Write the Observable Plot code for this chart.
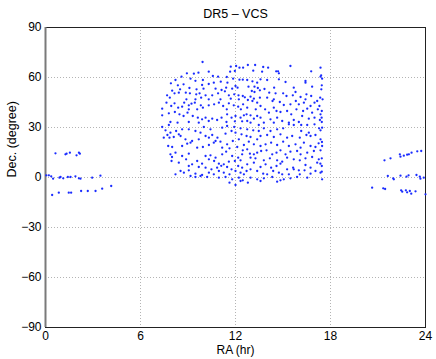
<!DOCTYPE html>
<html>
<head>
<meta charset="utf-8">
<script src="https://cdn.jsdelivr.net/npm/d3@7"></script>
<script src="https://cdn.jsdelivr.net/npm/@observablehq/plot@0.6"></script>
<style>
  html, body { margin: 0; padding: 0; background: #fff; }
</style>
</head>
<body>
<div id="chart"></div>
<script>
const title = "DR5 – VCS";
const xLabel = "RA (hr)";
const yLabel = "Dec. (degree)";
const xTicks = [0, 6, 12, 18, 24];
const yTicks = [-90, -60, -30, 0, 30, 60, 90];

// [RA (hr), Dec (deg)]
const clusterNW = [
[9.92,69.3],[12.04,66.9],[11.70,66.5],[12.25,65.9],[12.48,65.9],[10.31,63.5],[9.66,62.9],[9.37,62.3],[8.93,62.5],[11.66,63.5],
[11.96,63.9],[8.59,60.5],[8.21,58.5],[9.94,58.5],[10.57,60.9],[10.9,60.5],[11.45,60.3],[11.85,59.3],[12.25,58.7],[12.46,58.7],
[9.47,58.0],[11.07,57.5],[10.63,56.9],[11.49,56.9],[9.16,59.3],[7.92,56.5],[8.72,55.9],[8.36,55.3],[9.89,55.5],[10.31,56.1],
[8.0,52.1],[8.5,52.9],[9.09,53.7],[9.54,52.9],[9.98,53.3],[10.74,53.3],[11.12,52.5],[11.41,53.9],[11.79,53.3],[12.0,54.9],
[12.13,53.9],[7.68,49.3],[7.85,47.9],[8.15,50.5],[8.42,50.9],[8.86,50.9],[9.12,50.5],[9.52,49.9],[9.73,50.5],[9.83,47.9],
[10.11,49.3],[10.53,49.3],[10.9,50.5],[11.33,51.7],[11.58,49.3],[11.92,49.9],[12.19,49.3],[12.46,48.9],[12.59,48.1],[9.47,46.9],
[8.9,46.9],[10.31,46.9],[11.05,46.9],[11.7,47.3],[12.21,46.9],[7.37,41.3],[7.64,44.9],[7.94,42.9],[8.15,44.5],[8.38,41.9],
[8.63,42.5],[8.76,44.9],[9.05,43.3],[9.22,44.3],[9.43,44.9],[9.81,43.3],[9.94,41.9],[10.31,43.3],[10.65,43.9],[10.95,44.9],
[11.22,42.9],[11.58,44.5],[11.89,43.3],[12.17,42.5],[12.34,40.9],[12.48,43.9],[9.05,40.9],[9.58,40.9],[11.45,40.9],[7.37,37.3],
[7.79,38.5],[8.17,39.3],[8.46,37.9],[8.72,36.9],[8.97,38.9],[9.3,36.9],[9.62,35.9],[9.89,34.9],[10.11,35.9],[10.31,33.9],
[10.53,35.3],[10.84,34.5],[11.12,35.9],[11.47,37.9],[11.75,35.9],[12.0,36.9],[12.32,35.9],[12.53,37.3],[7.89,33.3],[8.34,32.9],
[9.05,33.3],[9.68,32.9],[11.43,33.3],[11.96,33.7],[12.42,33.7]
];
const clusterNE = [
[12.78,67.5],[13.24,67.5],[13.75,66.3],[14.06,65.9],[15.47,66.9],[14.57,63.7],[14.69,63.7],[14.74,62.5],[13.68,63.5],[13.12,64.1],
[17.37,65.9],[16.78,63.7],[17.41,61.3],[17.47,59.3],[17.37,60.5],[12.74,58.5],[13.07,57.7],[13.37,56.9],[13.58,58.9],[14.0,58.5],
[14.74,58.9],[15.16,57.3],[16.42,57.9],[16.42,56.9],[16.84,54.5],[17.45,55.3],[12.82,54.5],[13.2,54.5],[13.41,53.7],[13.03,51.9],
[13.2,51.3],[13.54,52.3],[13.83,53.1],[14.44,53.9],[14.13,50.9],[14.53,50.5],[15.01,50.5],[15.68,53.9],[15.79,51.3],[15.22,48.9],
[15.62,49.3],[16.11,48.3],[16.48,49.9],[16.78,48.9],[16.42,46.9],[17.16,45.9],[17.42,52.9],[12.95,48.5],[13.16,47.3],[13.54,47.9],
[12.78,46.5],[13.07,45.9],[13.37,44.9],[14.0,47.9],[14.34,45.9],[14.42,46.9],[14.8,45.3],[15.05,43.5],[15.47,43.9],[15.81,45.9],
[16.0,43.9],[16.32,44.9],[16.74,42.9],[16.99,44.9],[17.35,47.9],[17.5,46.9],[12.74,41.9],[13.28,40.9],[13.58,42.9],[13.87,40.9],
[14.42,41.9],[14.59,39.9],[14.11,38.9],[14.84,39.3],[15.26,39.9],[15.52,37.9],[15.85,40.9],[16.27,39.9],[16.53,41.3],[16.84,38.9],
[17.2,40.9],[17.37,37.9],[17.45,39.9],[17.3,42.9],[12.7,37.9],[12.95,37.3],[13.37,36.9],[13.16,35.3],[13.58,35.9],[12.74,33.9],
[12.95,32.9],[14.21,34.9],[14.63,35.9],[14.95,33.9],[15.37,32.9],[15.68,34.5],[16.0,33.3],[16.21,36.9],[16.63,35.3],[16.99,35.9],
[17.33,34.5],[17.45,33.3],[17.44,35.9],[14.42,32.9],[13.79,32.9]
];
const clusterSW = [
[7.79,31.5],[7.37,30.3],[10.0,30.3],[10.42,28.9],[11.16,29.9],[11.47,30.9],[11.92,30.3],[12.32,29.5],[7.58,28.3],[7.89,26.9],
[7.70,25.5],[8.25,27.9],[8.42,25.9],[8.63,28.9],[9.05,28.9],[9.47,27.9],[9.79,26.9],[10.11,24.9],[10.53,25.5],[10.86,23.9],
[11.37,26.3],[11.75,27.9],[12.0,26.9],[12.38,25.9],[7.47,23.9],[7.83,23.9],[8.1,24.3],[8.53,24.9],[8.84,22.9],[9.26,21.9],
[9.68,22.9],[10.32,23.9],[10.74,21.9],[11.05,21.5],[11.47,19.9],[11.83,21.9],[12.21,22.9],[12.53,19.5],[7.75,18.9],[8.0,18.3],
[8.63,18.9],[8.95,20.3],[9.16,20.9],[9.58,17.9],[9.94,18.3],[10.32,19.5],[10.63,20.9],[11.16,17.9],[11.62,17.5],[12.11,18.3],
[12.46,16.3],[7.89,13.9],[7.99,12.3],[8.21,14.9],[8.63,12.9],[9.05,14.3],[10.11,12.9],[10.42,13.3],[10.74,11.9],[11.16,13.9],
[11.41,15.5],[11.79,12.9],[12.17,11.9],[12.42,13.9],[7.96,9.9],[8.42,8.9],[8.88,10.9],[9.58,9.9],[9.89,8.3],[10.32,10.9],
[10.65,9.9],[10.95,8.3],[11.26,7.9],[11.58,9.5],[11.96,9.9],[12.32,10.3],[9.05,6.9],[9.26,7.9],[9.68,6.3],[10.11,5.9],
[10.48,4.9],[10.84,5.9],[11.1,7.0],[11.47,6.3],[11.75,4.9],[12.17,6.9],[12.42,5.9],[8.53,3.9],[8.74,2.9],[9.05,4.3],
[9.47,2.3],[9.89,1.5],[10.32,2.9],[10.63,1.9],[10.95,3.9],[11.26,2.9],[11.62,1.9],[12.0,3.9],[12.32,2.9],[12.53,1.9],
[8.21,1.9],[9.16,0.9],[9.47,0.3],[9.79,0.9],[10.21,0.3],[10.95,-0.1],[11.37,0.3],[11.79,-1.1],[12.21,-0.1],[12.46,-1.7],
[11.62,-3.1],[12.0,-4.5],[12.32,-2.1]
];
const clusterSE = [
[13.47,31.5],[15.37,31.9],[15.68,31.5],[16.15,31.5],[16.53,31.5],[16.99,31.9],[17.47,29.9],[12.74,28.9],[13.12,28.3],[13.47,27.9],
[13.79,29.5],[14.21,27.9],[14.63,28.9],[15.01,29.5],[16.15,27.9],[16.63,26.9],[17.37,28.3],[17.28,29.5],[12.7,24.9],[12.95,24.3],
[13.37,22.9],[13.58,24.9],[14.0,25.5],[14.42,24.3],[14.84,25.9],[15.26,23.9],[15.58,24.9],[16.06,23.9],[16.48,25.5],[16.74,24.9],
[17.05,25.5],[17.37,22.9],[17.46,21.3],[12.84,21.5],[13.16,19.9],[13.58,18.9],[13.9,19.9],[14.25,20.9],[14.63,19.5],[15.01,21.5],
[15.37,18.9],[15.79,19.9],[16.11,17.9],[16.32,20.9],[16.74,18.9],[17.05,18.3],[17.47,18.9],[17.25,20.5],[12.74,16.9],[12.91,14.3],
[13.16,13.9],[13.37,14.9],[13.62,15.9],[13.96,16.3],[14.32,13.9],[14.59,14.9],[14.84,16.3],[15.16,13.9],[15.47,15.5],[15.89,15.9],
[16.11,13.9],[16.53,14.9],[16.95,15.9],[17.37,16.3],[12.95,11.9],[13.26,11.5],[13.79,10.3],[14.17,11.5],[14.63,10.3],[14.95,9.5],
[15.26,11.9],[15.68,10.9],[16.06,10.3],[16.42,11.5],[16.84,12.3],[17.26,10.9],[17.45,11.5],[12.74,7.9],[13.16,8.9],[13.58,6.3],
[13.9,7.9],[14.25,5.9],[14.59,6.9],[14.84,8.3],[15.26,4.9],[15.64,5.9],[16.0,4.3],[16.42,7.5],[16.74,5.9],[17.16,8.9],
[17.45,6.9],[17.36,8.3],[12.7,3.9],[12.95,4.9],[13.37,3.9],[13.75,2.3],[14.0,1.9],[14.38,3.9],[14.74,2.9],[14.95,1.9],
[15.37,1.9],[15.68,4.9],[16.06,1.9],[16.36,4.3],[16.74,2.3],[17.05,3.9],[17.37,2.9],[17.45,3.5],[12.95,-0.1],[13.37,-1.1],
[13.79,-0.5],[14.32,0.3],[14.84,-1.7],[15.47,-0.5],[15.89,0.3],[16.53,-0.1],[17.47,-1.1],[12.78,-3.1],[13.58,-2.1],[14.63,-2.5],
[15.05,-1.1]
];
const bandWest = [
[0.63,14.5],[1.26,13.9],[1.33,14.3],[1.54,14.9],[1.96,13.3],[2.11,14.9],[2.17,14.3],
[0.05,1.3],[0.21,1.3],[0.36,0.7],[0.48,-0.7],[0.88,-0.1],[0.95,0.3],[1.12,-0.5],[1.41,0.3],[1.58,0.3],[1.89,0.7],[2.11,-0.5],[2.21,-0.7],[2.95,-0.1],[3.47,1.1],
[0.42,-10.5],[0.84,-9.1],[1.47,-9.1],[1.62,-9.1],[2.25,-8.1],[2.67,-8.1],[3.16,-8.1],[3.58,-6.7],[4.15,-5.1]
];
const bandEast = [
[21.41,10.3],[21.79,11.5],[22.38,13.9],[22.42,12.5],[22.63,13.1],[22.84,13.7],[22.95,13.9],[23.12,14.9],[23.48,15.7],[23.73,15.9],
[21.62,0.9],[21.96,-0.5],[22.0,-1.1],[22.42,1.1],[22.8,0.5],[22.93,1.3],[23.43,1.5],[23.64,0.5],[23.68,-0.7],[23.89,-0.1],
[20.63,-6.1],[21.33,-6.5],[21.45,-6.9],[22.46,-7.7],[22.53,-8.5],[22.76,-7.7],[22.84,-8.9],[23.01,-8.1],[23.1,-9.7],[23.37,-8.3],[24.0,-10.1]
];

const points = [...clusterNW, ...clusterNE, ...clusterSW, ...clusterSE, ...bandWest, ...bandEast]
  .map(([ra, dec]) => ({ra, dec}));

const font = "'Liberation Sans', Arial, Helvetica, sans-serif";

const chart = Plot.plot({
  width: 436,
  height: 359,
  marginTop: 27,
  marginRight: 11,
  marginBottom: 32,
  marginLeft: 45,
  style: {fontFamily: font, fontSize: "12px", background: "#fff", color: "#000", overflow: "visible"},
  x: {domain: [0, 24], label: null},
  y: {domain: [-90, 90], label: null},
  marks: [
    Plot.gridX(xTicks, {stroke: "#b4b4b4", strokeOpacity: 1, strokeDasharray: "1,2"}),
    Plot.gridY(yTicks, {stroke: "#b4b4b4", strokeOpacity: 1, strokeDasharray: "1,2"}),
    Plot.frame({stroke: "#222", strokeWidth: 1}),
    Plot.ruleX([0], {stroke: "#7a7a7a", strokeWidth: 2}),
    Plot.dot(points, {x: "ra", y: "dec", r: 1.15, fill: "#1a2cff", stroke: null}),
    Plot.axisX(xTicks, {tickSize: 0, tickPadding: 4, fontSize: 12, label: null}),
    Plot.axisY(yTicks, {tickSize: 0, tickPadding: 4, fontSize: 12, label: null}),
    Plot.text([title], {frameAnchor: "top", dy: -14, lineAnchor: "middle", fontSize: 12.5, fill: "#000"}),
    Plot.text([xLabel], {frameAnchor: "bottom", dy: 23, lineAnchor: "middle", fontSize: 12, fill: "#000"}),
    Plot.text([yLabel], {frameAnchor: "left", dx: -34, rotate: -90, lineAnchor: "middle", fontSize: 12.5, fill: "#000"})
  ]
});
document.getElementById("chart").appendChild(chart);
</script>
</body>
</html>
